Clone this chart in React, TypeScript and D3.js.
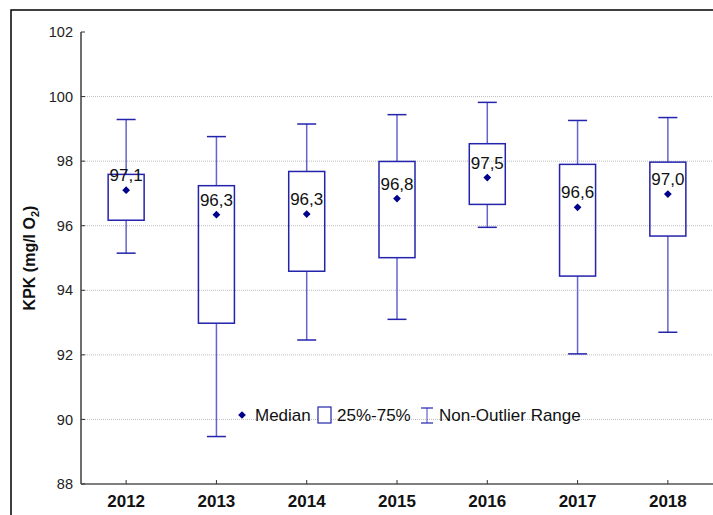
import * as d3 from "d3";

const years = ["2012", "2013", "2014", "2015", "2016", "2017", "2018"];
const medians = [97.1, 96.34, 96.36, 96.84, 97.49, 96.57, 96.98];
const q1 = [96.17, 92.98, 94.59, 95.01, 96.66, 94.44, 95.68];
const q3 = [97.59, 97.24, 97.68, 97.99, 98.54, 97.9, 97.97];
const whiskerLow = [95.15, 89.47, 92.46, 93.1, 95.95, 92.03, 92.7];
const whiskerHigh = [99.29, 98.76, 99.15, 99.44, 99.82, 99.26, 99.35];
const medianLabels = ["97,1", "96,3", "96,3", "96,8", "97,5", "96,6", "97,0"];
const yTicks = [88, 90, 92, 94, 96, 98, 100, 102];
const gridTicks = [90, 92, 94, 96, 98, 100];

const W = 713;
const H = 515;
const left = 81;
const right = 713;
const top = 32;
const bottom = 484;

const boxColor = "#2323ac";
const whiskerColor = "#6464cf";
const dotColor = "#00008c";
const font = "Arial, 'Liberation Sans', sans-serif";

const App = () => {
    const x = d3.scalePoint().domain(years).range([left, right]).padding(0.5);
    const y = d3.scaleLinear().domain([88, 102]).range([bottom, top]);
    const boxW = 36;
    const capW = 19;
    const diamond = d3.symbol().type(d3.symbolSquare).size(30)();

    return (
        <svg width={W} height={H} style={{position: "absolute", left: 0, top: 0, background: "#fff"}}>
            <rect x={11} y={10} width={W + 20} height={H + 20} fill="#fff" stroke="#000" strokeWidth={1.5}/>

            {gridTicks.map(t => (
                <line key={"g" + t} x1={left} x2={right} y1={y(t)} y2={y(t)}
                      stroke="#bdbdbd" strokeWidth={1} strokeDasharray="1,1"/>
            ))}

            {/* axes */}
            <line x1={left} x2={left} y1={top} y2={bottom} stroke="#6e6e6e" strokeWidth={2}/>
            <line x1={left} x2={right} y1={bottom} y2={bottom} stroke="#555" strokeWidth={1.5}/>
            {yTicks.map(t => (
                <g key={"y" + t}>
                    <line x1={left} x2={left + 4} y1={y(t)} y2={y(t)} stroke="#333" strokeWidth={1}/>
                    <text x={73} y={y(t)} dy="0.35em" textAnchor="end" fontFamily={font} fontSize={14.5}
                          fill="#222">{t}</text>
                </g>
            ))}
            {years.map(yr => (
                <g key={"x" + yr}>
                    <line x1={x(yr)} x2={x(yr)} y1={bottom} y2={bottom - 4} stroke="#333" strokeWidth={1}/>
                    <text x={x(yr)} y={507} textAnchor="middle" fontFamily={font} fontSize={17}
                          fontWeight="bold" fill="#111">{yr}</text>
                </g>
            ))}

            <text transform={`translate(35,${(top + bottom) / 2}) rotate(-90)`} textAnchor="middle"
                  fontFamily={font} fontSize={16} fontWeight="bold" fill="#111">
                KPK (mg/l O<tspan fontSize={11} dy={4}>2</tspan><tspan dy={-4}>)</tspan>
            </text>

            {/* boxes */}
            {years.map((yr, i) => {
                const cx = x(yr);
                return (
                    <g key={"b" + yr}>
                        <line x1={cx} x2={cx} y1={y(whiskerHigh[i])} y2={y(q3[i])} stroke={whiskerColor} strokeWidth={1.5}/>
                        <line x1={cx} x2={cx} y1={y(q1[i])} y2={y(whiskerLow[i])} stroke={whiskerColor} strokeWidth={1.5}/>
                        <line x1={cx - capW / 2} x2={cx + capW / 2} y1={y(whiskerHigh[i])} y2={y(whiskerHigh[i])}
                              stroke={boxColor} strokeWidth={1.5}/>
                        <line x1={cx - capW / 2} x2={cx + capW / 2} y1={y(whiskerLow[i])} y2={y(whiskerLow[i])}
                              stroke={boxColor} strokeWidth={1.5}/>
                        <rect x={cx - boxW / 2} y={y(q3[i])} width={boxW} height={y(q1[i]) - y(q3[i])}
                              fill="none" stroke={boxColor} strokeWidth={1.5}/>
                        <path d={diamond} transform={`translate(${cx},${y(medians[i])}) rotate(45)`} fill={dotColor}/>
                        <text x={cx} y={y(medians[i]) - 9} textAnchor="middle" fontFamily={font} fontSize={17}
                              fill="#111">{medianLabels[i]}</text>
                    </g>
                );
            })}

            {/* legend */}
            <g fontFamily={font} fontSize={17} fill="#111">
                <path d={diamond} transform="translate(242,415) rotate(45)" fill={dotColor}/>
                <text x={255} y={421}>Median</text>
                <rect x={318} y={407} width={13} height={16} fill="#fff" stroke={boxColor} strokeWidth={1.2}/>
                <text x={337} y={421}>25%-75%</text>
                <line x1={427} x2={427} y1={408} y2={423} stroke={whiskerColor} strokeWidth={1.2}/>
                <line x1={421} x2={433} y1={408} y2={408} stroke={boxColor} strokeWidth={1.2}/>
                <line x1={421} x2={433} y1={423} y2={423} stroke={boxColor} strokeWidth={1.2}/>
                <text x={439} y={421}>Non-Outlier Range</text>
            </g>
        </svg>
    );
};

export default App;
